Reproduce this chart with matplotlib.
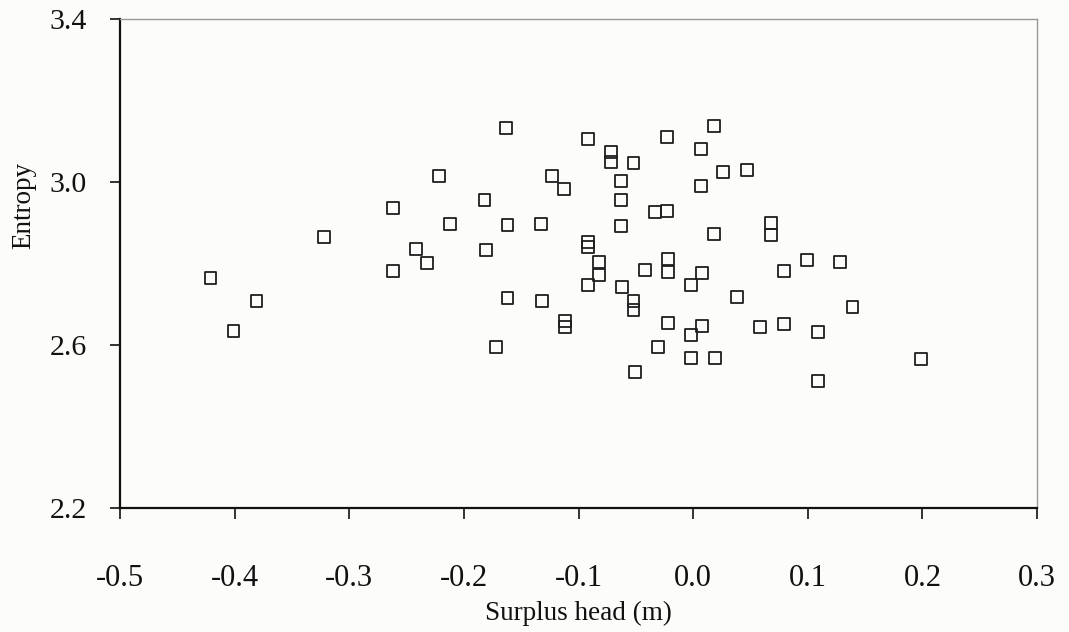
import matplotlib
matplotlib.use("Agg")
import matplotlib.pyplot as plt

# Surplus head (m) against entropy for each network design
surplus_head = [
    -0.421, -0.381, -0.401, -0.322, -0.262, -0.262, -0.242, -0.232, -0.222, -0.212,
    -0.182, -0.181, -0.172, -0.163, -0.162, -0.162, -0.133, -0.132, -0.123, -0.113,
    -0.112, -0.112, -0.092, -0.092, -0.092, -0.092, -0.082, -0.082, -0.072, -0.072,
    -0.063, -0.063, -0.063, -0.062, -0.052, -0.052, -0.052, -0.051, -0.042, -0.033,
    -0.031, -0.023, -0.023, -0.022, -0.022, -0.022, -0.002, -0.002, -0.002, 0.007,
    0.007, 0.008, 0.008, 0.018, 0.018, 0.019, 0.026, 0.038, 0.047, 0.058,
    0.068, 0.068, 0.079, 0.079, 0.099, 0.109, 0.109, 0.128, 0.139, 0.199,
]
entropy = [
    2.765, 2.709, 2.635, 2.866, 2.937, 2.782, 2.836, 2.802, 3.015, 2.898,
    2.957, 2.834, 2.596, 3.133, 2.895, 2.716, 2.898, 2.709, 3.015, 2.983,
    2.660, 2.645, 3.106, 2.854, 2.841, 2.748, 2.804, 2.772, 3.074, 3.050,
    3.003, 2.957, 2.893, 2.743, 3.047, 2.709, 2.687, 2.535, 2.785, 2.927,
    2.596, 3.111, 2.930, 2.812, 2.780, 2.655, 2.748, 2.625, 2.569, 3.082,
    2.991, 2.778, 2.647, 3.138, 2.873, 2.569, 3.025, 2.719, 3.030, 2.645,
    2.900, 2.871, 2.782, 2.652, 2.809, 2.633, 2.512, 2.804, 2.694, 2.566,
]

x_ticks = [-0.5, -0.4, -0.3, -0.2, -0.1, 0.0, 0.1, 0.2, 0.3]
y_ticks = [2.2, 2.6, 3.0, 3.4]

plt.rcParams["font.family"] = ["Liberation Serif", "DejaVu Serif"]

fig = plt.figure(figsize=(10.69, 6.32), dpi=100, facecolor="#fcfcfb")
ax = fig.add_axes([0.1123, 0.196, 0.8578, 0.7735], facecolor="#fcfcfb")

ax.scatter(surplus_head, entropy, marker="s", s=72, facecolors="none",
           edgecolors="#1e1e1e", linewidths=1.3, zorder=3)

ax.set_xlim(-0.5, 0.3)
ax.set_ylim(2.2, 3.4)
ax.set_xticks(x_ticks)
ax.set_xticklabels([f"{v:.1f}" for v in x_ticks])
ax.set_yticks(y_ticks)
ax.set_yticklabels([f"{v:.1f}" for v in y_ticks])

ax.tick_params(axis="x", direction="out", length=8, width=1.2, pad=32,
               labelsize=22, colors="#111111")
ax.tick_params(axis="y", direction="out", length=7, width=1.2, pad=17,
               labelsize=21.5, colors="#111111")

for side in ("left", "bottom"):
    ax.spines[side].set_color("#111111")
    ax.spines[side].set_linewidth(1.6)
for side in ("top", "right"):
    ax.spines[side].set_color("#9a9a9a")
    ax.spines[side].set_linewidth(1.0)

ax.set_xlabel("Surplus head (m)", fontsize=19.5, labelpad=6, color="#111111")
ax.set_ylabel("Entropy", fontsize=19.5, color="#111111")
ax.yaxis.set_label_coords(-0.0916, 0.62)

fig.savefig("out.png", dpi=100, facecolor=fig.get_facecolor())
